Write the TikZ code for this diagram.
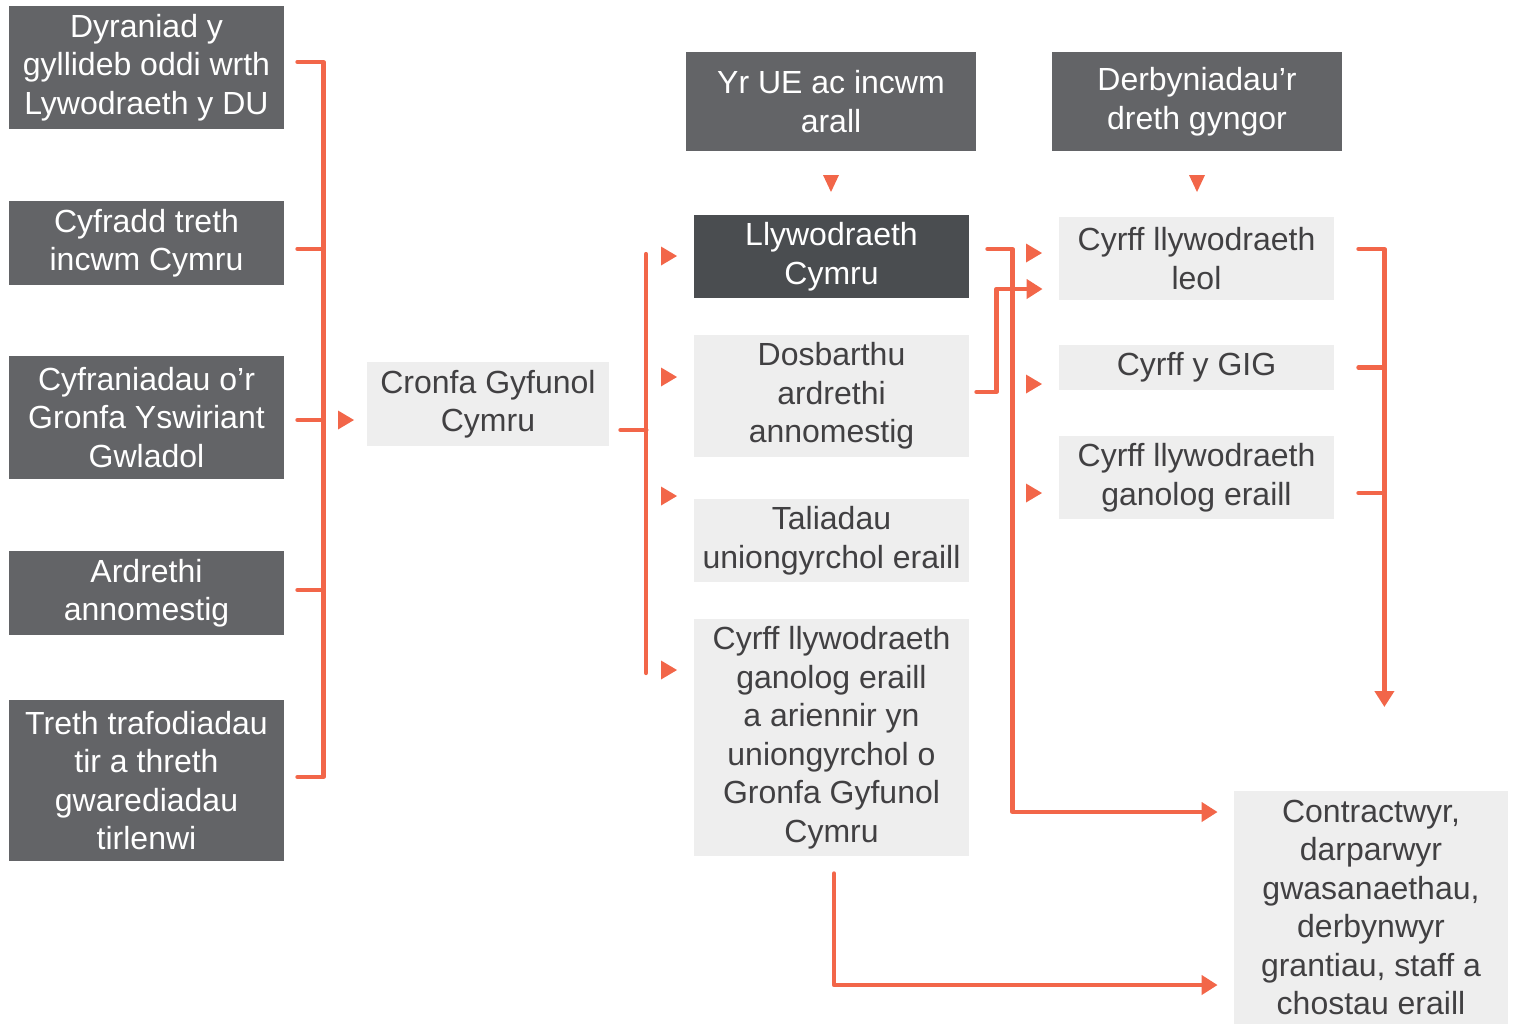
\documentclass[tikz,border=0pt]{standalone}
\usepackage{fontspec}
\setmainfont{Liberation Sans}
\usetikzlibrary{arrows.meta}

\definecolor{boxdark}{HTML}{636467}
\definecolor{boxdarker}{HTML}{4A4D50}
\definecolor{boxlight}{HTML}{EEEEEE}
\definecolor{txtdark}{HTML}{414042}
\definecolor{flow}{HTML}{F26649}

\tikzset{
  box/.style={rectangle, inner sep=0pt, minimum width=137.5pt, align=center,
    font=\fontsize{16}{19.25}\selectfont},
  darkbox/.style={box, fill=boxdark, text=white},
  govbox/.style={box, fill=boxdarker, text=white},
  lightbox/.style={box, fill=boxlight, text=txtdark},
  flowline/.style={draw=flow, line width=2.1pt, line cap=round, line join=round},
  flowarrow/.style={flowline, -{Triangle[length=8pt,width=9.5pt]}},
  tipright/.pic={\fill[flow] (-4pt,4.75pt) -- (4pt,0pt) -- (-4pt,-4.75pt) -- cycle;},
  tipdown/.pic={\fill[flow] (-4pt,4.25pt) -- (4pt,4.25pt) -- (0pt,-4.25pt) -- cycle;}
}

\begin{document}
\begin{tikzpicture}[x=0.5pt, y=-0.5pt]
  \useasboundingbox (0,0) rectangle (1517,1025);

  % sources
  \node[darkbox, minimum height=61.5pt] (b1) at (146.5,67.5) {Dyraniad y\\gyllideb oddi wrth\\Lywodraeth y DU};
  \node[darkbox, minimum height=42pt]   (b2) at (146.5,243)  {Cyfradd treth\\incwm Cymru};
  \node[darkbox, minimum height=61.5pt] (b3) at (146.5,417.5) {Cyfraniadau o’r\\Gronfa Yswiriant\\Gwladol};
  \node[darkbox, minimum height=42pt]   (b4) at (146.5,593)  {Ardrethi\\annomestig};
  \node[darkbox, minimum height=80.5pt] (b5) at (146.5,780.5) {Treth trafodiadau\\tir a threth\\gwarediadau\\tirlenwi};

  \node[lightbox, minimum width=121pt, minimum height=42pt] (cronfa) at (488,404) {Cronfa Gyfunol\\Cymru};

  % middle column
  \node[darkbox, minimum width=145pt, minimum height=49.5pt] (ue) at (831,101.5) {Yr UE ac incwm\\arall};
  \node[govbox, minimum height=41.5pt] (llyw) at (831.5,256.5) {Llywodraeth\\Cymru};
  \node[lightbox, minimum height=61pt] (dosb) at (831.5,396) {Dosbarthu\\ardrethi\\annomestig};
  \node[lightbox, minimum height=41.5pt] (tali) at (831.5,540.5) {Taliadau\\uniongyrchol eraill};
  \node[lightbox, minimum height=118.5pt] (gronfa) at (831.5,737.5) {Cyrff llywodraeth\\ganolog eraill\\a ariennir yn\\uniongyrchol o\\Gronfa Gyfunol\\Cymru};

  % right column
  \node[darkbox, minimum width=145pt, minimum height=49.5pt] (dreth) at (1197,101.5) {Derbyniadau’r\\dreth gyngor};
  \node[lightbox, minimum height=41.5pt] (leol) at (1196.5,258.5) {Cyrff llywodraeth\\leol};
  \node[lightbox, minimum height=22.5pt] (gig) at (1196.5,367.5) {Cyrff y GIG};
  \node[lightbox, minimum height=41.5pt] (ganolog) at (1196.5,477.5) {Cyrff llywodraeth\\ganolog eraill};
  \node[lightbox, minimum width=137pt, minimum height=116.5pt] (contr) at (1371,907.5) {Contractwyr,\\darparwyr\\gwasanaethau,\\derbynwyr\\grantiau, staff a\\chostau eraill};

  % left bracket
  \draw[flowline] ([xshift=6.5pt,yshift=2.75pt]b1.east) -- ++(13pt,0) -- ++(0,-357.5pt) -- ++(-13pt,0);
  \foreach \b/\dy in {b2/-3pt, b3/-1.25pt, b4/1.5pt}
    \draw[flowline] ([xshift=6.5pt,yshift=\dy]\b.east) -- ++(13pt,0);
  \pic at (346,420) {tipright};

  % middle bracket
  \draw[flowline] ([xshift=5.5pt,yshift=-13pt]cronfa.east) -- ++(13pt,0);
  \draw[flowline] (646,254) -- (646,673);
  \foreach \y in {256,377,496,670}
    \pic at (669,\y) {tipright};

  \pic at (831,183.5) {tipdown};
  \pic at (1197,183.5) {tipdown};

  % crossing lines
  \draw[flowarrow] ([xshift=9pt,yshift=3.75pt]llyw.east) -| ++(12.5pt,-281.5pt) -- ([xshift=-8pt,yshift=47.75pt]contr.west);
  \draw[flowarrow] ([xshift=3.5pt,yshift=2pt]dosb.east) -- ++(10pt,0) |- ([xshift=-8pt,yshift=-15.25pt]leol.west);
  \foreach \y in {253,384,493}
    \pic at (1034,\y) {tipright};

  \draw[flowarrow] ([xshift=1.25pt,yshift=-8.5pt]gronfa.south) |- ([xshift=-8pt,yshift=-38.75pt]contr.west);

  % right bracket
  \draw[flowarrow] ([xshift=12pt,yshift=4.75pt]leol.east) -- ++(13pt,0) -- ++(0,-229pt);
  \draw[flowline] ([xshift=12pt]gig.east) -- ++(13pt,0);
  \draw[flowline] ([xshift=12pt,yshift=-7.75pt]ganolog.east) -- ++(13pt,0);
\end{tikzpicture}
\end{document}
